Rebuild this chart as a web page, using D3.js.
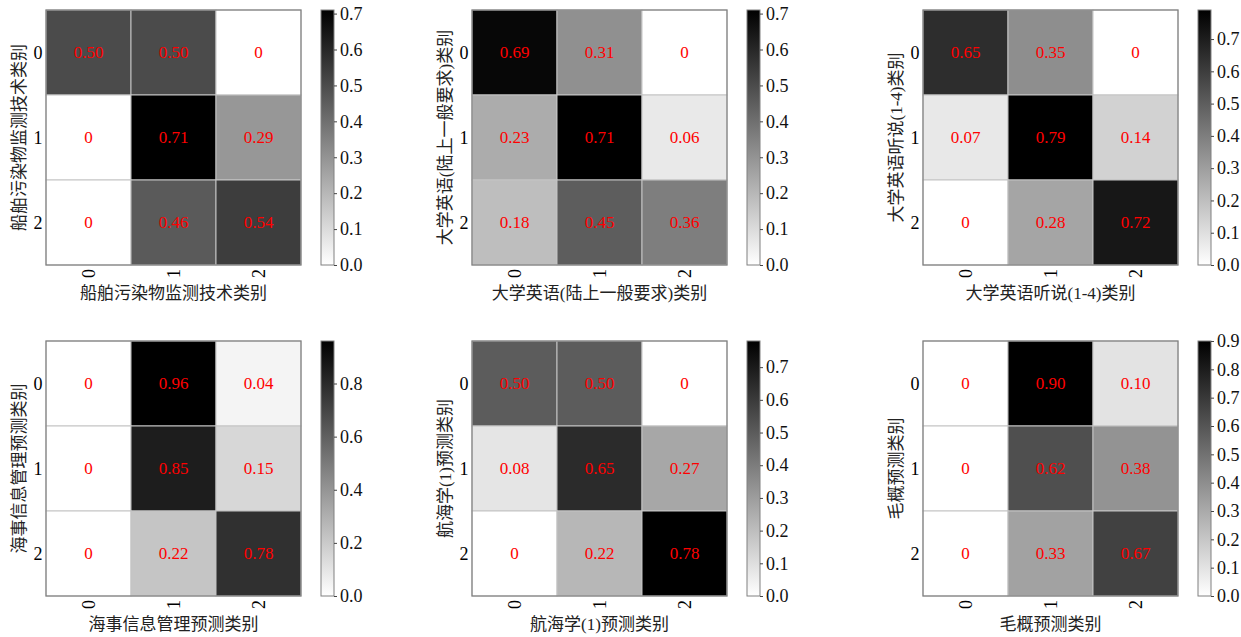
<!DOCTYPE html>
<html>
<head>
<meta charset="utf-8">
<script src="https://cdn.jsdelivr.net/npm/d3@7"></script>
<style>
  body { margin: 0; background: #fff; }
  svg { display: block; }
</style>
</head>
<body>
<svg id="chart" width="1241" height="637"></svg>
<script>
// class labels shared by every matrix
const classes = ["0", "1", "2"]

// axis titles, one per panel (same text on x and y)
const titles = [
  "船舶污染物监测技术类别",
  "大学英语(陆上一般要求)类别",
  "大学英语听说(1-4)类别",
  "海事信息管理预测类别",
  "航海学(1)预测类别",
  "毛概预测类别"
]

// confusion matrices (rows = true, cols = predicted)
const cmShip = [[0.50, 0.50, 0], [0, 0.71, 0.29], [0, 0.46, 0.54]]
const cmEnglish = [[0.69, 0.31, 0], [0.23, 0.71, 0.06], [0.18, 0.45, 0.36]]
const cmListening = [[0.65, 0.35, 0], [0.07, 0.79, 0.14], [0, 0.28, 0.72]]
const cmMaritimeInfo = [[0, 0.96, 0.04], [0, 0.85, 0.15], [0, 0.22, 0.78]]
const cmNavigation = [[0.50, 0.50, 0], [0.08, 0.65, 0.27], [0, 0.22, 0.78]]
const cmMaogai = [[0, 0.90, 0.10], [0, 0.62, 0.38], [0, 0.33, 0.67]]
const matrices = [cmShip, cmEnglish, cmListening, cmMaritimeInfo, cmNavigation, cmMaogai]

// colour bar top value and its tick step
const cbarMax = [0.71, 0.71, 0.79, 0.96, 0.78, 0.90]
const cbarStep = [0.1, 0.1, 0.1, 0.2, 0.1, 0.1]

const svg = d3.select("#chart")
const lefts = [46, 472, 923]
const tops = [10, 341]
const size = 255
const serif = "'Liberation Serif', 'Times New Roman', 'Noto Sans CJK SC', serif"

// gradient for the colour bars (white -> black, like gray_r)
const defs = svg.append("defs")
const grad = defs.append("linearGradient").attr("id", "grey")
  .attr("x1", 0).attr("y1", 1).attr("x2", 0).attr("y2", 0)
grad.append("stop").attr("offset", "0%").attr("stop-color", "#ffffff")
grad.append("stop").attr("offset", "100%").attr("stop-color", "#000000")

let fmt = v => v === 0 ? "0" : d3.format(".2f")(v)

matrices.forEach((cm, i) => {
  let left = lefts[i % 3]
  let top = tops[Math.floor(i / 3)]
  let g = svg.append("g").attr("transform", `translate(${left},${top})`)

  let x = d3.scaleBand().domain(classes).range([0, size])
  let y = d3.scaleBand().domain(classes).range([0, size])
  let color = d3.scaleLinear().domain([0, cbarMax[i]]).range(["#ffffff", "#000000"]).clamp(true)

  let cells = []
  cm.forEach((row, r) => row.forEach((v, c) => cells.push({ r: classes[r], c: classes[c], v })))

  g.selectAll("rect.cell").data(cells).join("rect")
    .attr("class", "cell")
    .attr("x", d => x(d.c))
    .attr("y", d => y(d.r))
    .attr("width", x.bandwidth())
    .attr("height", y.bandwidth())
    .attr("fill", d => color(d.v))
    .attr("stroke", "#c4c4c4")
    .attr("stroke-width", 1)

  g.selectAll("text.val").data(cells).join("text")
    .attr("class", "val")
    .attr("x", d => x(d.c) + x.bandwidth() / 2)
    .attr("y", d => y(d.r) + y.bandwidth() / 2)
    .attr("text-anchor", "middle")
    .attr("dominant-baseline", "central")
    .attr("fill", "#ff0000")
    .style("font-family", serif)
    .style("font-size", "17px")
    .text(d => fmt(d.v))

  // frame
  g.append("rect").attr("width", size).attr("height", size)
    .attr("fill", "none").attr("stroke", "#808080").attr("stroke-width", 1.2)

  // y tick labels
  g.selectAll("text.ytick").data(classes).join("text")
    .attr("class", "ytick")
    .attr("x", -8)
    .attr("y", d => y(d) + y.bandwidth() / 2)
    .attr("text-anchor", "middle")
    .attr("dominant-baseline", "central")
    .style("font-family", serif)
    .style("font-size", "18px")
    .text(d => d)

  // x tick labels, rotated
  g.selectAll("text.xtick").data(classes).join("text")
    .attr("class", "xtick")
    .attr("transform", d => `translate(${x(d) + x.bandwidth() / 2},${size + 4}) rotate(-90)`)
    .attr("text-anchor", "end")
    .attr("dominant-baseline", "central")
    .style("font-family", serif)
    .style("font-size", "18px")
    .text(d => d)

  // axis titles
  g.append("text")
    .attr("x", size / 2).attr("y", size + 28)
    .attr("text-anchor", "middle").attr("dominant-baseline", "central")
    .style("font-family", serif).style("font-size", "17px").attr("fill", "#222")
    .text(titles[i])
  g.append("text")
    .attr("transform", `translate(-27,${size / 2}) rotate(-90)`)
    .attr("text-anchor", "middle").attr("dominant-baseline", "central")
    .style("font-family", serif).style("font-size", "17px").attr("fill", "#222")
    .text(titles[i])

  // colour bar
  let cb = g.append("g").attr("transform", `translate(275,0)`)
  let cbScale = d3.scaleLinear().domain([0, cbarMax[i]]).range([size, 0])
  cb.append("rect").attr("width", 13).attr("height", size)
    .attr("fill", "url(#grey)").attr("stroke", "#808080").attr("stroke-width", 1)
  let ticks = d3.range(0, cbarMax[i] + 1e-9, cbarStep[i])
  let axis = d3.axisRight(cbScale).tickValues(ticks).tickFormat(d3.format(".1f")).tickSize(3).tickPadding(3)
  let ag = cb.append("g").attr("transform", "translate(13,0)").call(axis)
  ag.select(".domain").remove()
  ag.selectAll(".tick line").attr("stroke", "#444")
  ag.selectAll(".tick text")
    .attr("fill", "#111")
    .style("font-family", serif)
    .style("font-size", "18px")
})
</script>
</body>
</html>
